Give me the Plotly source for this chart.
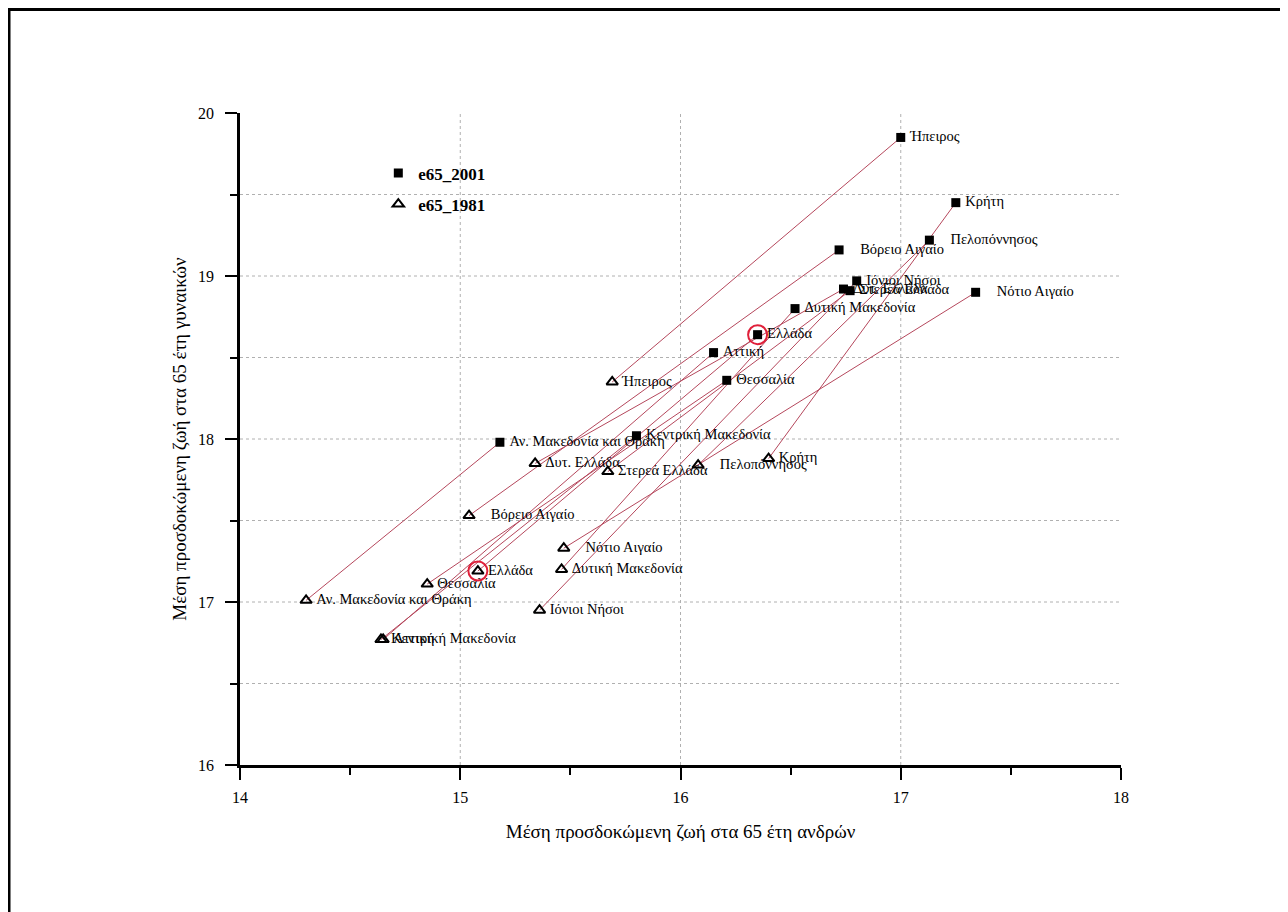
import plotly.graph_objects as go

regions = ["Ήπειρος", "Κρήτη", "Πελοπόννησος", "Βόρειο Αιγαίο", "Ιόνιοι Νήσοι",
           "Δυτ. Ελλάδα", "Στερεά Ελλάδα", "Νότιο Αιγαίο", "Δυτική Μακεδονία",
           "Ελλάδα", "Αττική", "Θεσσαλία", "Κεντρική Μακεδονία",
           "Αν. Μακεδονία και Θράκη"]

men_2001 = [17.00, 17.25, 17.13, 16.72, 16.80, 16.74, 16.77, 17.34, 16.52,
            16.35, 16.15, 16.21, 15.80, 15.18]
women_2001 = [19.85, 19.45, 19.22, 19.16, 18.97, 18.92, 18.91, 18.90, 18.80,
              18.64, 18.53, 18.36, 18.02, 17.98]
men_1981 = [15.69, 16.40, 16.08, 15.04, 15.36, 15.34, 15.67, 15.47, 15.46,
            15.08, 14.65, 14.85, 14.64, 14.30]
women_1981 = [18.35, 17.88, 17.84, 17.53, 16.95, 17.85, 17.80, 17.33, 17.20,
              17.19, 16.77, 17.11, 16.77, 17.01]

highlight = "Ελλάδα"
wide_gap_labels = {"Πελοπόννησος", "Βόρειο Αιγαίο", "Νότιο Αιγαίο"}
x_ticks = [14, 15, 16, 17, 18]
y_ticks = [16, 17, 18, 19, 20]
x_grid = [15, 16, 17]
y_grid = [16.5, 17, 17.5, 18, 18.5, 19, 19.5]

SERIF = "Liberation Serif, Times New Roman, serif"
templates = [("\u2003%{text}" if r in wide_gap_labels else "\u2009%{text}") for r in regions]

fig = go.Figure()

# connecting lines 1981 -> 2001
lx, ly = [], []
for a, b, c, d in zip(men_1981, women_1981, men_2001, women_2001):
    lx += [a, c, None]
    ly += [b, d, None]
fig.add_trace(go.Scatter(x=lx, y=ly, mode="lines",
                         line=dict(color="#b5475c", width=1),
                         showlegend=False, hoverinfo="skip"))

fig.add_trace(go.Scatter(
    x=men_2001, y=women_2001, mode="markers+text", name="e65_2001",
    text=regions, texttemplate=templates, textposition="middle right",
    textfont=dict(family=SERIF, size=14.5, color="black"),
    marker=dict(symbol="square", size=9, color="black"),
    legendgroup="a"))

fig.add_trace(go.Scatter(
    x=men_1981, y=women_1981, mode="markers+text", name="e65_1981",
    text=regions, texttemplate=templates, textposition="middle right",
    textfont=dict(family=SERIF, size=14.5, color="black"),
    marker=dict(symbol="triangle-up-open", size=10, color="black",
                line=dict(width=2, color="black")),
    legendgroup="b"))

hi = regions.index(highlight)
fig.add_trace(go.Scatter(
    x=[men_2001[hi], men_1981[hi]], y=[women_2001[hi], women_1981[hi]],
    mode="markers", showlegend=False, hoverinfo="skip",
    marker=dict(symbol="circle-open", size=19, color="#e0203a",
                line=dict(width=2, color="#e0203a"))))

shapes = []
for g in x_grid:
    shapes.append(dict(type="line", xref="x", yref="paper", x0=g, x1=g, y0=0, y1=1,
                       line=dict(color="#b0b0b0", width=1, dash="dot"), layer="below"))
for g in y_grid:
    shapes.append(dict(type="line", xref="paper", yref="y", x0=0, x1=1, y0=g, y1=g,
                       line=dict(color="#b0b0b0", width=1, dash="dot"), layer="below"))
# outer frame
shapes.append(dict(type="rect", xref="paper", yref="paper",
                   x0=-0.2622, x1=1.25, y0=-0.35, y1=1.1588,
                   line=dict(color="black", width=3), layer="below"))

fig.update_layout(
    width=1280, height=904,
    margin=dict(l=232, r=167, t=105, b=147),
    paper_bgcolor="white", plot_bgcolor="white",
    font=dict(family=SERIF, color="black"),
    shapes=shapes,
    showlegend=True,
    legend=dict(x=0.157, y=0.935, xanchor="left", yanchor="top",
                bgcolor="rgba(0,0,0,0)", tracegroupgap=6,
                font=dict(family=SERIF, size=17, color="black", weight="bold"),
                traceorder="grouped"),
    xaxis=dict(range=[14, 18], tickvals=x_ticks, showgrid=False, zeroline=False,
               showline=True, linecolor="black", linewidth=2.5,
               ticks="outside", ticklen=12, tickwidth=2, tickcolor="black",
               tickfont=dict(family=SERIF, size=16), ticklabelstandoff=4,
               minor=dict(dtick=0.5, ticks="outside", ticklen=7, tickwidth=2,
                          tickcolor="black", showgrid=False),
               title=dict(text="Μέση προσδοκώμενη ζωή στα 65 έτη ανδρών",
                          font=dict(family=SERIF, size=19), standoff=20)),
    yaxis=dict(range=[16, 20], tickvals=y_ticks, showgrid=False, zeroline=False,
               showline=True, linecolor="black", linewidth=2.5,
               ticks="outside", ticklen=12, tickwidth=2, tickcolor="black",
               tickfont=dict(family=SERIF, size=16), ticklabelstandoff=8,
               minor=dict(dtick=0.5, ticks="outside", ticklen=7, tickwidth=2,
                          tickcolor="black", showgrid=False),
               title=dict(text="Μέση προσδοκώμενη ζωή στα 65 έτη γυναικών",
                          font=dict(family=SERIF, size=19), standoff=7)),
)

fig.write_html("out.html")
